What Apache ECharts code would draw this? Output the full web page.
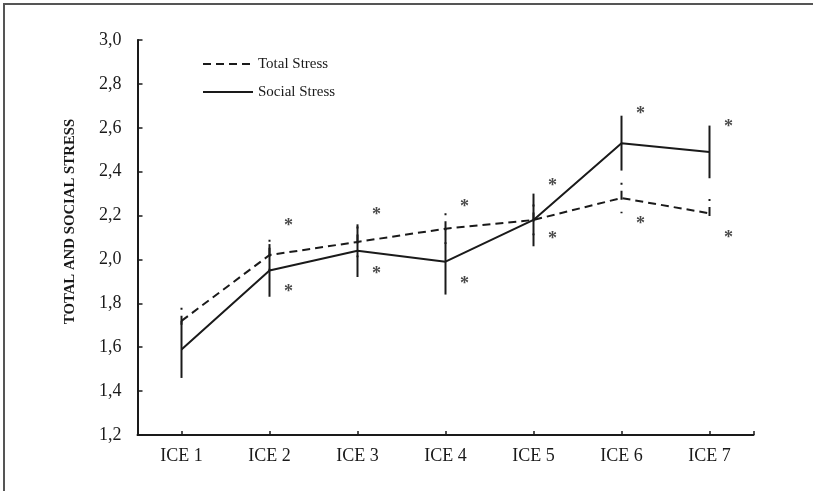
<!DOCTYPE html>
<html>
<head>
<meta charset="utf-8">
<script src="https://cdn.jsdelivr.net/npm/echarts@6/dist/echarts.min.js"></script>
<style>
html,body{margin:0;padding:0;background:#fff;}
#frame{position:absolute;left:3px;top:3px;width:810px;height:488px;border-left:2px solid #555;border-top:2px solid #555;}
#chart{position:absolute;left:0;top:0;width:813px;height:491px;}
</style>
</head>
<body>
<div id="frame"></div>
<div id="chart"></div>
<script>
// ---- data ----
const categories = ['ICE 1', 'ICE 2', 'ICE 3', 'ICE 4', 'ICE 5', 'ICE 6', 'ICE 7'];
const totalStress = [1.72, 2.02, 2.08, 2.14, 2.18, 2.28, 2.21];
const totalErr    = [0.06, 0.07, 0.07, 0.07, 0.07, 0.07, 0.065];
const socialStress = [1.59, 1.95, 2.04, 1.99, 2.18, 2.53, 2.49];
const socialErr    = [0.13, 0.12, 0.12, 0.15, 0.12, 0.125, 0.12];
const starUpper = [null, 2.16, 2.21, 2.245, 2.34, 2.67, 2.61];
const starLower = [null, 1.86, 1.94, 1.895, 2.10, 2.17, 2.105];
const yTicks = [1.2, 1.4, 1.6, 1.8, 2.0, 2.2, 2.4, 2.6, 2.8, 3.0];

const INK = '#1a1a1a';
const FONT = '"Liberation Serif", "Times New Roman", serif';

const idx = categories.map((c, i) => i + 1);
const pts = arr => arr.map((v, i) => [i + 1, v]);
const errData = (m, e) => m.map((v, i) => [i + 1, v - e[i], v + e[i]]);
const starData = arr => arr.map((v, i) => v == null ? null : [i + 1, v]).filter(d => d);

function errRender(dash) {
  return function (params, api) {
    const p1 = api.coord([api.value(0), api.value(1)]);
    const p2 = api.coord([api.value(0), api.value(2)]);
    return {
      type: 'line',
      shape: { x1: p1[0], y1: p2[1], x2: p2[0], y2: p1[1] },
      style: { stroke: INK, lineWidth: 2, lineDash: dash }
    };
  };
}

const chart = echarts.init(document.getElementById('chart'), null, { renderer: 'canvas' });
chart.setOption({
  animation: false,
  backgroundColor: 'transparent',
  grid: { left: 137.5, right: 59.5, top: 40, bottom: 56, containLabel: false },
  legend: {
    orient: 'vertical',
    left: 202,
    top: 56.5,
    padding: 0,
    itemWidth: 50,
    itemHeight: 14,
    itemGap: 13,
    itemStyle: { opacity: 0 },
    data: ['Total Stress', 'Social Stress'],
    textStyle: { fontFamily: FONT, fontSize: 15, color: INK }
  },
  xAxis: {
    type: 'value',
    min: 0.5,
    max: 7.5,
    axisLine: { show: true, onZero: false, lineStyle: { color: INK, width: 2 } },
    axisTick: { show: true, inside: true, length: 4, lineStyle: { color: INK, width: 1.5 },
                customValues: idx.concat([7.5]) },
    axisLabel: { customValues: idx, margin: 12, formatter: v => categories[Math.round(v) - 1],
                 fontFamily: FONT, fontSize: 18, color: INK },
    splitLine: { show: false }
  },
  yAxis: {
    type: 'value',
    min: 1.2,
    max: 3.0,
    interval: 0.2,
    name: 'TOTAL AND SOCIAL STRESS',
    nameLocation: 'middle',
    nameGap: 60,
    nameTextStyle: { fontFamily: FONT, fontSize: 14.8, fontWeight: 'bold', color: INK, padding: [0, 0, 0, 32] },
    axisLine: { show: true, lineStyle: { color: INK, width: 2 } },
    axisTick: { show: true, inside: true, length: 5, lineStyle: { color: INK, width: 1.5 },
                customValues: yTicks },
    axisLabel: { margin: 16, fontFamily: FONT, fontSize: 18, color: INK,
                 customValues: yTicks,
                 formatter: v => v.toFixed(1).replace('.', ',') },
    splitLine: { show: false }
  },
  series: [
    {
      name: 'Total Stress',
      type: 'line',
      data: pts(totalStress),
      symbol: 'none',
      lineStyle: { color: INK, width: 2, type: [8, 5] },
      itemStyle: { color: INK },
      z: 2
    },
    {
      name: 'Social Stress',
      type: 'line',
      data: pts(socialStress),
      symbol: 'none',
      lineStyle: { color: INK, width: 2, type: 'solid' },
      itemStyle: { color: INK },
      z: 3
    },
    {
      name: 'totalErr',
      type: 'custom',
      data: errData(totalStress, totalErr),
      renderItem: errRender([2, 6, 9, 12]),
      encode: { x: 0, y: [1, 2] },
      z: 2
    },
    {
      name: 'socialErr',
      type: 'custom',
      data: errData(socialStress, socialErr),
      renderItem: errRender(null),
      encode: { x: 0, y: [1, 2] },
      z: 3
    },
    {
      name: 'stars',
      type: 'scatter',
      data: starData(starUpper).concat(starData(starLower)),
      symbol: 'circle',
      symbolSize: 2,
      itemStyle: { color: 'rgba(0,0,0,0)' },
      label: { show: true, position: 'inside', formatter: '*', offset: [19, 2],
               fontFamily: FONT, fontSize: 18, fontWeight: 'bold', color: INK },
      silent: true,
      z: 4
    }
  ]
});
</script>
</body>
</html>
